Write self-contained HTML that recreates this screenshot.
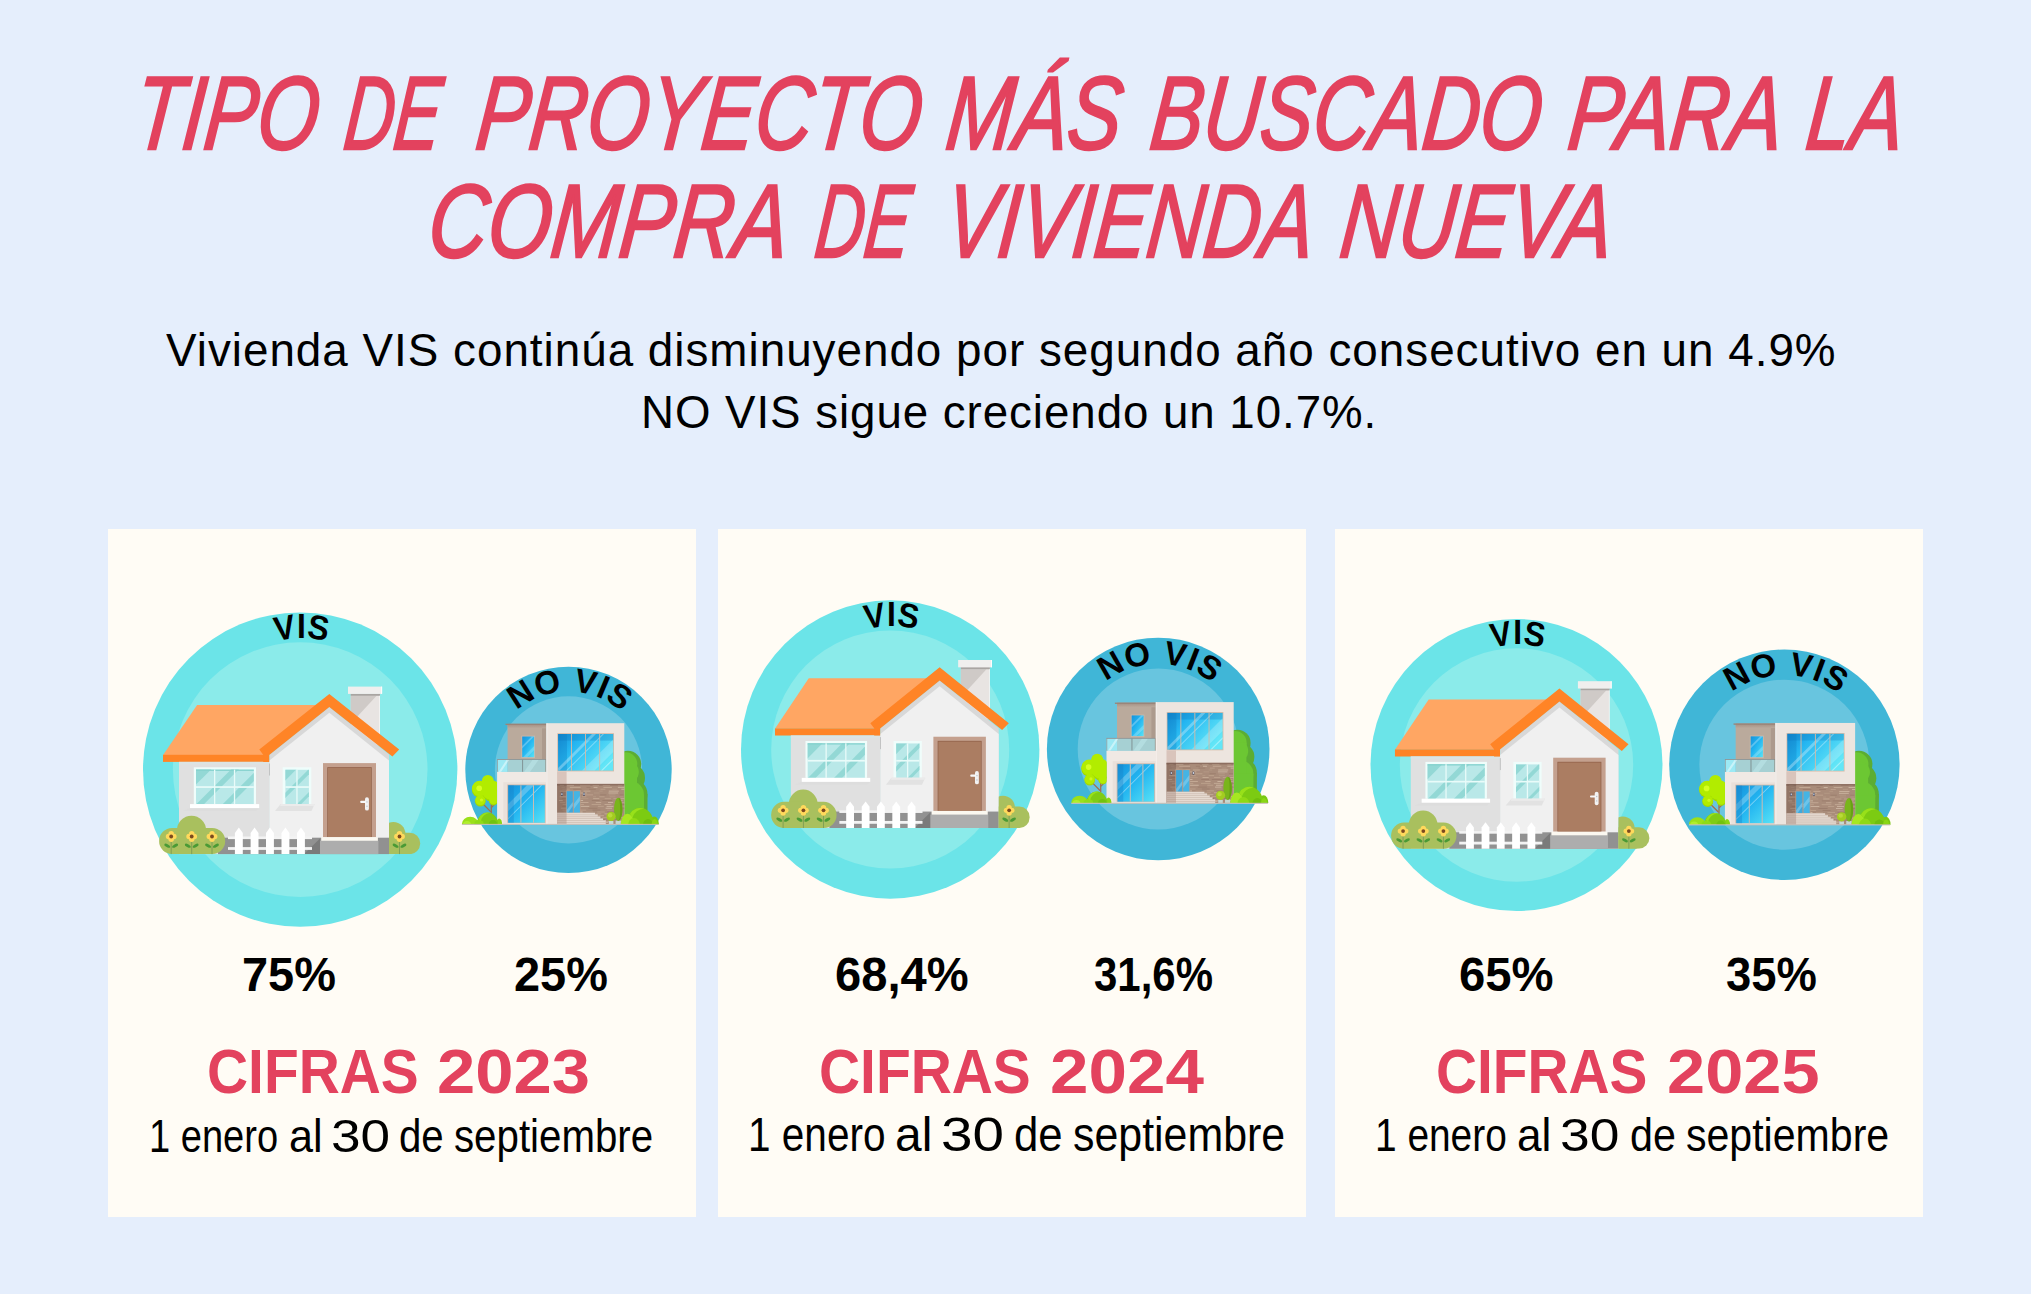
<!DOCTYPE html><html lang="es"><head><meta charset="utf-8"><title>Tipo de proyecto más buscado</title><style>
html,body{margin:0;padding:0}
body{width:2031px;height:1294px;background:#E5EEFC;position:relative;overflow:hidden;font-family:"Liberation Sans",Arial,sans-serif}
.card{position:absolute;top:529px;height:688.4px;background:#FFFCF5}
.g{position:absolute;left:0;top:0;margin:0;width:0;height:0;line-height:1}
.t{position:absolute;white-space:nowrap;line-height:1;transform-origin:0 0;display:block}
svg.art{position:absolute;left:0;top:0}

</style></head><body>
<div class="card" style="left:108px;width:588px"></div>
<div class="card" style="left:718px;width:588px"></div>
<div class="card" style="left:1335px;width:587.5px"></div>
<svg class="art" width="2031" height="1294" viewBox="0 0 2031 1294"><defs>
<g id="hv"><rect x="187.7" y="7" width="29.3" height="52" fill="#E8E4E2"/><polygon points="187.7,9.3 213.6,9.3 187.7,37.3" fill="#CFCAC7"/><rect x="187.7" y="7.2" width="29.3" height="2.1" fill="#A9A5A2"/><rect x="216.3" y="9.3" width="0.7" height="45" fill="#F8F8F8"/><rect x="185" y="0.1" width="34.1" height="7.3" fill="#F0EFEE"/><rect x="218.2" y="0.1" width="0.9" height="7.3" fill="#FFFFFF"/><polygon points="34.1,18.4 155,18.4 100.2,68.5 0.1,68.5" fill="#FFA663"/><rect x="0" y="68.3" width="106.2" height="7.1" fill="#FF8426"/><rect x="16" y="75.4" width="90.6" height="92.2" fill="#E0E0E0"/><rect x="16" y="75.4" width="90.6" height="2.4" fill="#DCE4E4"/><polygon points="106.4,167.6 106.4,68.2 166.3,20.5 226,68.1 226,167.6" fill="#D8D8D8"/><polygon points="106.4,167.6 106.4,74 166.3,26.3 226,73.9 226,167.6" fill="#F0F0F0"/><rect x="106.1" y="77" width="0.8" height="12" fill="#B9B9B9"/><polygon points="166.3,7.4 236.2,63.1 229.4,70 166.3,20.5 106.2,68.4 106.2,75.4 100.2,75.4 100.2,68.2 96.3,63.1" fill="#FF8426"/><rect x="30.8" y="80.8" width="62.2" height="36.8" fill="#EFFDFB"/><rect x="33" y="83.1" width="57.8" height="34.5" fill="#B9E8E8"/><clipPath id="cw1"><rect x="33" y="83.1" width="57.8" height="34.5"/></clipPath><g clip-path="url(#cw1)" fill="#93D8D5"><polygon points="21.900000000000006,78.1 53.0,78.1 8.5,122.6 -22.599999999999994,122.6"/><polygon points="72.9,78.1 80.6,78.1 36.099999999999994,122.6 28.400000000000006,122.6"/><polygon points="99.20000000000002,78.1 107.30000000000001,78.1 62.80000000000001,122.6 54.70000000000002,122.6"/></g><rect x="33" y="83.1" width="57.8" height="1.3" fill="#86D2CE"/><rect x="51" y="83.1" width="1.3" height="34.5" fill="#E9FBF9"/><rect x="70.9" y="83.1" width="1.3" height="34.5" fill="#E9FBF9"/><rect x="33" y="99.7" width="57.8" height="1.7" fill="#E9FBF9"/><polygon points="27,121.6 96.2,121.6 93,124.4 20,124.4" fill="#DADADA" opacity="0.55"/><rect x="27" y="117.6" width="69.2" height="4" fill="#FFFFFF"/><rect x="119.7" y="80.8" width="28.6" height="36.8" fill="#EFFDFB"/><rect x="122.4" y="83.3" width="23.5" height="34.3" fill="#B9E8E8"/><clipPath id="cw2"><rect x="122.4" y="83.3" width="23.5" height="34.3"/></clipPath><g clip-path="url(#cw2)" fill="#93D8D5"><polygon points="111.7,78.3 137.89999999999998,78.3 93.6,122.6 67.4,122.6"/><polygon points="150.10000000000002,78.3 155.5,78.3 111.20000000000002,122.6 105.80000000000001,122.6"/><polygon points="173.2,78.3 177.5,78.3 133.20000000000002,122.6 128.9,122.6"/></g><rect x="133.3" y="83.3" width="1.3" height="34.3" fill="#E9FBF9"/><rect x="122.4" y="99.7" width="23.5" height="1.7" fill="#E9FBF9"/><polygon points="117.7,117.6 151.7,117.6 148.5,124.4 112,124.4" fill="#E2E2E2"/><polygon points="117.7,117.6 151.7,117.6 151,119.6 117.2,119.6" fill="#EBEBEB"/><rect x="160" y="76.6" width="53" height="74" fill="#C4A08E"/><rect x="164.3" y="80.7" width="44.4" height="69.9" fill="#8F5E46"/><rect x="165" y="81.4" width="43" height="69.2" fill="#AB7D62"/><rect x="202" y="110.7" width="3.9" height="13.4" rx="1.95" fill="#F2F2F2"/><rect x="197.2" y="114.3" width="6" height="2.2" rx="1" fill="#F7F7F7"/><circle cx="204" cy="115.4" r="0.7" fill="#B8C0C8"/><circle cx="204" cy="119.8" r="0.7" fill="#B8C0C8"/><rect x="55" y="151.2" width="171" height="16.4" fill="#919191"/><polygon points="141,167.6 157,152 157,167.6" fill="#7A7A7A"/><rect x="157" y="154.3" width="58.4" height="13.3" fill="#ADADAD"/><rect x="158.2" y="150.6" width="56.7" height="3.7" fill="#FBF8F0"/><rect x="65" y="150" width="84" height="2.6" fill="#F3F3F3"/><rect x="65" y="160.6" width="84" height="2.8" fill="#F3F3F3"/><polygon points="71.9,167.6 71.9,146.4 75.85000000000001,141.1 79.80000000000001,146.4 79.80000000000001,167.6" fill="#FFFFFF"/><polygon points="87.6,167.6 87.6,146.4 91.55,141.1 95.5,146.4 95.5,167.6" fill="#FFFFFF"/><polygon points="103.0,167.6 103.0,146.4 106.95,141.1 110.9,146.4 110.9,167.6" fill="#FFFFFF"/><polygon points="118.5,167.6 118.5,146.4 122.45,141.1 126.4,146.4 126.4,167.6" fill="#FFFFFF"/><polygon points="134.0,167.6 134.0,146.4 137.95,141.1 141.9,146.4 141.9,167.6" fill="#FFFFFF"/><circle cx="28.5" cy="143.9" r="14.6" fill="#A9C05E"/><rect x="-3.9" y="141.5" width="66.1" height="26.1" rx="13" fill="#A9C05E"/><line x1="8.2" y1="154" x2="8.2" y2="167.6" stroke="#7C9C55" stroke-width="0.9"/><ellipse cx="4.299999999999999" cy="159.2" rx="3.3" ry="1.5" fill="#4A9A35" transform="rotate(28 4.299999999999999 159.2)"/><ellipse cx="12.1" cy="159.2" rx="3.3" ry="1.5" fill="#4A9A35" transform="rotate(-28 12.1 159.2)"/><circle cx="8.2" cy="147.3" r="2.7" fill="#FFD95C"/><circle cx="8.2" cy="152.7" r="2.7" fill="#FFD95C"/><circle cx="5.499999999999999" cy="150" r="2.7" fill="#FFD95C"/><circle cx="10.899999999999999" cy="150" r="2.7" fill="#FFD95C"/><circle cx="8.2" cy="150" r="1.9" fill="#7B4A20"/><line x1="28.7" y1="154" x2="28.7" y2="167.6" stroke="#7C9C55" stroke-width="0.9"/><ellipse cx="24.8" cy="159.2" rx="3.3" ry="1.5" fill="#4A9A35" transform="rotate(28 24.8 159.2)"/><ellipse cx="32.6" cy="159.2" rx="3.3" ry="1.5" fill="#4A9A35" transform="rotate(-28 32.6 159.2)"/><circle cx="28.7" cy="147.3" r="2.7" fill="#FFD95C"/><circle cx="28.7" cy="152.7" r="2.7" fill="#FFD95C"/><circle cx="26.0" cy="150" r="2.7" fill="#FFD95C"/><circle cx="31.4" cy="150" r="2.7" fill="#FFD95C"/><circle cx="28.7" cy="150" r="1.9" fill="#7B4A20"/><line x1="49.0" y1="154" x2="49.0" y2="167.6" stroke="#7C9C55" stroke-width="0.9"/><ellipse cx="45.1" cy="159.2" rx="3.3" ry="1.5" fill="#4A9A35" transform="rotate(28 45.1 159.2)"/><ellipse cx="52.9" cy="159.2" rx="3.3" ry="1.5" fill="#4A9A35" transform="rotate(-28 52.9 159.2)"/><circle cx="49.0" cy="147.3" r="2.7" fill="#FFD95C"/><circle cx="49.0" cy="152.7" r="2.7" fill="#FFD95C"/><circle cx="46.3" cy="150" r="2.7" fill="#FFD95C"/><circle cx="51.7" cy="150" r="2.7" fill="#FFD95C"/><circle cx="49.0" cy="150" r="1.9" fill="#7B4A20"/><clipPath id="crb"><rect x="226" y="120" width="40" height="47.6"/></clipPath><g clip-path="url(#crb)"><circle cx="230.4" cy="147.4" r="12" fill="#A9C05E"/><rect x="215" y="146.2" width="42.2" height="21.4" rx="10.5" fill="#A9C05E"/><rect x="215" y="155" width="30" height="12.6" fill="#A9C05E"/></g><line x1="236.5" y1="154" x2="236.5" y2="167.6" stroke="#7C9C55" stroke-width="0.9"/><ellipse cx="232.6" cy="159.2" rx="3.3" ry="1.5" fill="#4A9A35" transform="rotate(28 232.6 159.2)"/><ellipse cx="240.4" cy="159.2" rx="3.3" ry="1.5" fill="#4A9A35" transform="rotate(-28 240.4 159.2)"/><circle cx="236.5" cy="147.3" r="2.7" fill="#FFD95C"/><circle cx="236.5" cy="152.7" r="2.7" fill="#FFD95C"/><circle cx="233.8" cy="150" r="2.7" fill="#FFD95C"/><circle cx="239.2" cy="150" r="2.7" fill="#FFD95C"/><circle cx="236.5" cy="150" r="1.9" fill="#7B4A20"/></g>
<g id="hm"><linearGradient id="gl" x1="0" y1="0" x2="1" y2="1"><stop offset="0" stop-color="#1693DC"/><stop offset="0.45" stop-color="#22B4F0"/><stop offset="1" stop-color="#58E2F6"/></linearGradient>
<linearGradient id="gl2" x1="0" y1="0" x2="1" y2="0.6"><stop offset="0" stop-color="#168FD8"/><stop offset="0.35" stop-color="#25B6F1"/><stop offset="1" stop-color="#62E6F7"/></linearGradient>
<linearGradient id="gcap" x1="0" y1="0" x2="0" y2="1"><stop offset="0" stop-color="#A38E82"/><stop offset="1" stop-color="#BAAA9C"/></linearGradient><clipPath id="cgr"><rect x="-10" y="-10" width="230" height="112.2"/></clipPath><g fill="#5CAD33"><circle cx="166" cy="42" r="13.2"/><circle cx="169" cy="56" r="14"/><circle cx="170.5" cy="72" r="15"/><rect x="160" y="72" width="25.5" height="30"/></g><g fill="#6CC733"><circle cx="163.5" cy="42" r="11.8"/><circle cx="166" cy="50" r="10.8"/><circle cx="168" cy="73" r="14"/><rect x="155" y="42" width="20" height="60"/><rect x="155" y="73" width="27" height="29"/></g><rect x="0" y="101.7" width="196.5" height="1" fill="#C7BEB8"/><rect x="45.6" y="1.9" width="38.8" height="35.5" fill="#BAAA9C"/><rect x="80" y="1.9" width="4.4" height="35.5" fill="#AC9A8D"/><rect x="45.6" y="1.9" width="38.8" height="4.4" fill="url(#gcap)"/><rect x="43.5" y="1.7" width="40.9" height="1.3" fill="#9A8478"/><rect x="59.4" y="13.7" width="13.6" height="22.3" fill="#CDB9AA"/><rect x="60.2" y="14.5" width="12" height="20.7" fill="url(#gl)"/><polygon points="60.2,24 69.7,14.5 72.2,14.5 60.2,26.5" fill="#FFFFFF" opacity="0.28"/><polygon points="61,35.2 72.2,24 72.2,28 65,35.2" fill="#FFFFFF" opacity="0.22"/><rect x="35.1" y="37.2" width="10.5" height="12.7" fill="#9CE9F4"/><rect x="45.6" y="37.2" width="38.6" height="12.7" fill="#A6D0D3"/><polygon points="36.5,49.9 45,37.2 47.5,37.2 39,49.9" fill="#FFFFFF" opacity="0.45"/><polygon points="62,49.9 71,37.2 77,37.2 68,49.9" fill="#B9E3E6" opacity="0.7"/><rect x="35.1" y="37" width="49.3" height="0.9" fill="#8F9596"/><rect x="35.1" y="37.2" width="0.7" height="12.7" fill="#8F9596"/><rect x="60" y="37.2" width="1.1" height="12.7" fill="#84999B"/><rect x="83.5" y="37.2" width="0.9" height="12.7" fill="#8E8276"/><rect x="35.1" y="49.9" width="49.7" height="52.2" fill="#F0E9E4"/><rect x="41.3" y="60.2" width="43.5" height="41.9" fill="#E9E0DA"/><rect x="45.3" y="62.5" width="38.2" height="38.4" fill="#C9B4A7"/><rect x="46.2" y="63.3" width="36.6" height="37.4" fill="url(#gl)"/><polygon points="46.2,82 64.9,63.3 72,63.3 46.2,89" fill="#FFFFFF" opacity="0.25"/><polygon points="46.2,96 78.9,63.3 80.2,63.3 46.2,97.3" fill="#FFFFFF" opacity="0.4"/><rect x="46.2" y="63.3" width="5.6" height="37.4" fill="#1A7FC4" opacity="0.35"/><rect x="58.4" y="63.3" width="1" height="37.4" fill="#C9BCB3"/><rect x="71" y="63.3" width="1" height="37.4" fill="#C9BCB3"/><rect x="84.4" y="1.2" width="77.9" height="100.9" fill="#EDE5DF"/><rect x="84.4" y="1.2" width="1" height="100.9" fill="#F5EFEB"/><rect x="95.3" y="11.2" width="56.7" height="38.2" fill="#D6B9A5"/><rect x="96.1" y="12" width="55.1" height="36.6" fill="url(#gl2)"/><rect x="96.1" y="12" width="55.1" height="6.6" fill="#0E78BE" opacity="0.32"/><rect x="96.1" y="12" width="8.9" height="36.6" fill="#0E78BE" opacity="0.3"/><polygon points="96.1,46 130,12 134,12 97.5,48.6 96.1,48.6" fill="#FFFFFF" opacity="0.3"/><polygon points="104,48.6 140.6,12 142,12 105.4,48.6" fill="#FFFFFF" opacity="0.35"/><polygon points="120,48.6 151.2,17.4 151.2,30 132.6,48.6" fill="#FFFFFF" opacity="0.22"/><polygon points="139,48.6 151.2,36.4 151.2,38 140.6,48.6" fill="#FFFFFF" opacity="0.4"/><rect x="109.0" y="12" width="0.9" height="36.6" fill="#D6B9A5"/><rect x="123.0" y="12" width="0.9" height="36.6" fill="#D6B9A5"/><rect x="137.2" y="12" width="0.9" height="36.6" fill="#D6B9A5"/><rect x="95.1" y="49.4" width="9.5" height="12.5" fill="#D9C4BB"/><rect x="95.1" y="61.9" width="67.2" height="40.2" fill="#A98C7A"/><rect x="97.9" y="63.0" width="4.2" height="0.8" fill="#C8AF9A"/><rect x="104.7" y="63.0" width="7.3" height="0.8" fill="#D2BCA8"/><rect x="118.0" y="63.0" width="10.3" height="0.8" fill="#BFA48F"/><rect x="130.6" y="63.0" width="6.5" height="0.8" fill="#C8AF9A"/><rect x="140.7" y="63.0" width="7.4" height="0.8" fill="#C8AF9A"/><rect x="155.9" y="63.0" width="4.0" height="0.8" fill="#BFA48F"/><rect x="99.5" y="64.9" width="3.5" height="0.8" fill="#B59A86"/><rect x="107.8" y="64.9" width="10.8" height="0.8" fill="#C8AF9A"/><rect x="124.5" y="64.9" width="4.1" height="0.8" fill="#9A7C6B"/><rect x="131.6" y="64.9" width="3.9" height="0.8" fill="#D2BCA8"/><rect x="141.4" y="64.9" width="8.5" height="0.8" fill="#C8AF9A"/><rect x="155.9" y="64.9" width="6.4" height="0.8" fill="#D2BCA8"/><rect x="100.3" y="66.8" width="7.5" height="0.8" fill="#B59A86"/><rect x="111.2" y="66.8" width="8.4" height="0.8" fill="#9A7C6B"/><rect x="127.1" y="66.8" width="6.7" height="0.8" fill="#9A7C6B"/><rect x="138.4" y="66.8" width="5.0" height="0.8" fill="#BFA48F"/><rect x="150.2" y="66.8" width="5.0" height="0.8" fill="#B59A86"/><rect x="159.3" y="66.8" width="3.0" height="0.8" fill="#D2BCA8"/><rect x="97.7" y="68.7" width="10.8" height="0.8" fill="#C8AF9A"/><rect x="114.2" y="68.7" width="4.3" height="0.8" fill="#D2BCA8"/><rect x="121.5" y="68.7" width="6.9" height="0.8" fill="#C8AF9A"/><rect x="137.2" y="68.7" width="3.6" height="0.8" fill="#B59A86"/><rect x="146.8" y="68.7" width="10.0" height="0.8" fill="#D2BCA8"/><rect x="98.1" y="70.6" width="7.0" height="0.8" fill="#9A7C6B"/><rect x="107.6" y="70.6" width="3.7" height="0.8" fill="#D2BCA8"/><rect x="116.6" y="70.6" width="8.3" height="0.8" fill="#C8AF9A"/><rect x="132.1" y="70.6" width="5.5" height="0.8" fill="#B59A86"/><rect x="146.5" y="70.6" width="9.6" height="0.8" fill="#D2BCA8"/><rect x="101.3" y="72.5" width="5.8" height="0.8" fill="#9A7C6B"/><rect x="111.6" y="72.5" width="7.9" height="0.8" fill="#9A7C6B"/><rect x="121.9" y="72.5" width="9.1" height="0.8" fill="#BFA48F"/><rect x="138.2" y="72.5" width="6.2" height="0.8" fill="#9A7C6B"/><rect x="146.9" y="72.5" width="6.6" height="0.8" fill="#B59A86"/><rect x="157.5" y="72.5" width="4.1" height="0.8" fill="#9A7C6B"/><rect x="97.7" y="74.4" width="6.3" height="0.8" fill="#D2BCA8"/><rect x="110.8" y="74.4" width="6.0" height="0.8" fill="#BFA48F"/><rect x="119.9" y="74.4" width="4.4" height="0.8" fill="#BFA48F"/><rect x="130.9" y="74.4" width="3.1" height="0.8" fill="#B59A86"/><rect x="137.3" y="74.4" width="5.3" height="0.8" fill="#BFA48F"/><rect x="147.5" y="74.4" width="6.0" height="0.8" fill="#B59A86"/><rect x="157.6" y="74.4" width="4.0" height="0.8" fill="#B59A86"/><rect x="99.9" y="76.3" width="8.9" height="0.8" fill="#9A7C6B"/><rect x="117.1" y="76.3" width="9.2" height="0.8" fill="#B59A86"/><rect x="131.1" y="76.3" width="6.2" height="0.8" fill="#C8AF9A"/><rect x="142.7" y="76.3" width="6.2" height="0.8" fill="#BFA48F"/><rect x="151.4" y="76.3" width="4.7" height="0.8" fill="#BFA48F"/><rect x="158.8" y="76.3" width="3.5" height="0.8" fill="#C8AF9A"/><rect x="96.9" y="78.2" width="3.8" height="0.8" fill="#D2BCA8"/><rect x="107.0" y="78.2" width="3.6" height="0.8" fill="#BFA48F"/><rect x="116.9" y="78.2" width="4.2" height="0.8" fill="#D2BCA8"/><rect x="129.8" y="78.2" width="7.8" height="0.8" fill="#9A7C6B"/><rect x="140.4" y="78.2" width="9.8" height="0.8" fill="#9A7C6B"/><rect x="155.6" y="78.2" width="5.5" height="0.8" fill="#BFA48F"/><rect x="98.1" y="80.1" width="5.1" height="0.8" fill="#BFA48F"/><rect x="108.8" y="80.1" width="4.6" height="0.8" fill="#B59A86"/><rect x="118.0" y="80.1" width="8.5" height="0.8" fill="#C8AF9A"/><rect x="133.8" y="80.1" width="5.4" height="0.8" fill="#C8AF9A"/><rect x="146.0" y="80.1" width="5.1" height="0.8" fill="#D2BCA8"/><rect x="159.5" y="80.1" width="2.8" height="0.8" fill="#BFA48F"/><rect x="100.7" y="82.0" width="5.6" height="0.8" fill="#BFA48F"/><rect x="112.6" y="82.0" width="9.3" height="0.8" fill="#BFA48F"/><rect x="129.6" y="82.0" width="9.5" height="0.8" fill="#BFA48F"/><rect x="142.5" y="82.0" width="6.9" height="0.8" fill="#C8AF9A"/><rect x="158.4" y="82.0" width="3.9" height="0.8" fill="#9A7C6B"/><rect x="100.2" y="83.9" width="10.7" height="0.8" fill="#9A7C6B"/><rect x="118.5" y="83.9" width="8.8" height="0.8" fill="#D2BCA8"/><rect x="135.9" y="83.9" width="5.9" height="0.8" fill="#BFA48F"/><rect x="144.6" y="83.9" width="6.8" height="0.8" fill="#D2BCA8"/><rect x="154.8" y="83.9" width="7.5" height="0.8" fill="#B59A86"/><rect x="98.9" y="85.8" width="8.2" height="0.8" fill="#C8AF9A"/><rect x="114.9" y="85.8" width="4.0" height="0.8" fill="#9A7C6B"/><rect x="126.4" y="85.8" width="9.0" height="0.8" fill="#9A7C6B"/><rect x="143.6" y="85.8" width="6.5" height="0.8" fill="#D2BCA8"/><rect x="152.7" y="85.8" width="9.6" height="0.8" fill="#9A7C6B"/><rect x="100.5" y="87.7" width="3.7" height="0.8" fill="#BFA48F"/><rect x="107.3" y="87.7" width="4.0" height="0.8" fill="#BFA48F"/><rect x="117.5" y="87.7" width="6.7" height="0.8" fill="#BFA48F"/><rect x="130.5" y="87.7" width="7.8" height="0.8" fill="#9A7C6B"/><rect x="144.9" y="87.7" width="5.8" height="0.8" fill="#B59A86"/><rect x="156.5" y="87.7" width="3.2" height="0.8" fill="#C8AF9A"/><rect x="101.6" y="89.6" width="6.5" height="0.8" fill="#BFA48F"/><rect x="115.9" y="89.6" width="4.7" height="0.8" fill="#D2BCA8"/><rect x="124.0" y="89.6" width="7.0" height="0.8" fill="#B59A86"/><rect x="135.3" y="89.6" width="7.4" height="0.8" fill="#BFA48F"/><rect x="145.1" y="89.6" width="8.9" height="0.8" fill="#9A7C6B"/><rect x="100.9" y="91.5" width="7.1" height="0.8" fill="#B59A86"/><rect x="110.9" y="91.5" width="4.2" height="0.8" fill="#B59A86"/><rect x="117.3" y="91.5" width="6.5" height="0.8" fill="#BFA48F"/><rect x="130.1" y="91.5" width="9.2" height="0.8" fill="#BFA48F"/><rect x="142.5" y="91.5" width="6.8" height="0.8" fill="#C8AF9A"/><rect x="155.2" y="91.5" width="5.6" height="0.8" fill="#B59A86"/><rect x="98.9" y="93.4" width="9.2" height="0.8" fill="#B59A86"/><rect x="110.5" y="93.4" width="4.5" height="0.8" fill="#C8AF9A"/><rect x="122.4" y="93.4" width="7.1" height="0.8" fill="#B59A86"/><rect x="131.7" y="93.4" width="10.2" height="0.8" fill="#C8AF9A"/><rect x="147.0" y="93.4" width="7.9" height="0.8" fill="#B59A86"/><rect x="97.2" y="95.3" width="5.2" height="0.8" fill="#B59A86"/><rect x="108.1" y="95.3" width="6.8" height="0.8" fill="#BFA48F"/><rect x="121.9" y="95.3" width="10.0" height="0.8" fill="#D2BCA8"/><rect x="140.3" y="95.3" width="10.1" height="0.8" fill="#BFA48F"/><rect x="158.4" y="95.3" width="3.9" height="0.8" fill="#C8AF9A"/><rect x="97.9" y="97.2" width="8.4" height="0.8" fill="#9A7C6B"/><rect x="108.8" y="97.2" width="8.4" height="0.8" fill="#C8AF9A"/><rect x="125.4" y="97.2" width="4.2" height="0.8" fill="#D2BCA8"/><rect x="132.6" y="97.2" width="10.1" height="0.8" fill="#9A7C6B"/><rect x="146.2" y="97.2" width="10.6" height="0.8" fill="#9A7C6B"/><rect x="97.0" y="99.1" width="8.3" height="0.8" fill="#BFA48F"/><rect x="108.4" y="99.1" width="6.5" height="0.8" fill="#B59A86"/><rect x="119.7" y="99.1" width="6.4" height="0.8" fill="#D2BCA8"/><rect x="130.3" y="99.1" width="8.8" height="0.8" fill="#C8AF9A"/><rect x="143.5" y="99.1" width="6.7" height="0.8" fill="#C8AF9A"/><rect x="154.8" y="99.1" width="7.1" height="0.8" fill="#D2BCA8"/><rect x="95.1" y="61.9" width="67.2" height="1.6" fill="#86665A" opacity="0.8"/><rect x="95.1" y="61.9" width="9.5" height="40.2" fill="#6F5247" opacity="0.38"/><rect x="103.9" y="68.4" width="14.8" height="22.4" fill="#B79A88"/><rect x="104.7" y="69.2" width="6.1" height="21.6" fill="#3EA8DC"/><rect x="111.8" y="69.2" width="6.1" height="21.6" fill="#45B4E4"/><polygon points="104.7,88 110.8,80 110.8,84 106,90.8 104.7,90.8" fill="#FFFFFF" opacity="0.25"/><polygon points="111.8,82 117.9,74 117.9,79 111.8,87" fill="#FFFFFF" opacity="0.22"/><rect x="99" y="70.6" width="1.8" height="3.2" fill="#4B4E63"/><rect x="99.4" y="71.2" width="1" height="1.8" fill="#DDE6F2"/><rect x="121.1" y="70.6" width="1.8" height="3.2" fill="#4B4E63"/><rect x="121.5" y="71.2" width="1" height="1.8" fill="#DDE6F2"/><polygon points="95.1,90.8 133,90.8 133,92.6 135.7,92.6 135.7,94.5 138.4,94.5 138.4,96.4 141.1,96.4 141.1,98.3 143.8,98.3 143.8,102 95.1,102" fill="#E6DAD1"/><rect x="95.1" y="92.5" width="40.3" height="0.7" fill="#CDBDB2"/><rect x="95.1" y="94.4" width="43.0" height="0.7" fill="#CDBDB2"/><rect x="95.1" y="96.3" width="45.7" height="0.7" fill="#CDBDB2"/><rect x="95.1" y="98.2" width="48.4" height="0.7" fill="#CDBDB2"/><rect x="95.1" y="100.1" width="51.1" height="0.7" fill="#CDBDB2"/><rect x="95.1" y="90.8" width="9.5" height="11.2" fill="#A98C80" opacity="0.45"/><rect x="146.8" y="99" width="4.6" height="3" fill="#C9DAD3"/><rect x="153.6" y="98.6" width="5.2" height="3.4" fill="#C5D8D0"/><ellipse cx="156.2" cy="87.4" rx="4.2" ry="11.6" fill="#79B51C"/><path d="M156.2 75.8 A4.2 11.6 0 0 1 156.2 99 A2 11.6 0 0 0 156.2 75.8Z" fill="#67A214"/><circle cx="149.1" cy="94.4" r="4.6" fill="#A3CC20"/><circle cx="148.2" cy="93.2" r="2.2" fill="#B9DA3A"/><g clip-path="url(#cgr)"><ellipse cx="192.3" cy="102.2" rx="4.6" ry="7.8" fill="#79C811"/><ellipse cx="178.2" cy="102.2" rx="13.6" ry="16.4" fill="#7CCB12"/><ellipse cx="165.4" cy="102.2" rx="6.6" ry="10.5" fill="#A6E722"/><ellipse cx="172" cy="103.5" rx="6" ry="7.5" fill="#8FD915"/><path d="M168 92 A11 11 0 0 1 182 86.8 A13 13 0 0 0 170.5 95.5Z" fill="#98E01A"/><ellipse cx="186" cy="103" rx="5" ry="6" fill="#6FBE0E"/><ellipse cx="192.6" cy="102.5" rx="3" ry="5.4" fill="#8AD614"/></g><g stroke="#A0714F" stroke-width="1.3" fill="none" stroke-linecap="round"><line x1="29.3" y1="78" x2="29.3" y2="91"/><line x1="21.8" y1="82.7" x2="28.4" y2="89.4"/><line x1="33.3" y1="81.5" x2="29.9" y2="85"/></g><clipPath id="ctl"><rect x="-10" y="40" width="45.1" height="70"/></clipPath><g clip-path="url(#ctl)"><g fill="#A2DA00"><circle cx="18.3" cy="79.2" r="5.4"/><circle cx="31.5" cy="78.8" r="4.6"/><circle cx="17.8" cy="67.6" r="8"/><circle cx="29.5" cy="69.5" r="10"/></g><g fill="#B2EC00"><circle cx="25.8" cy="58.9" r="6"/><circle cx="17.8" cy="66.5" r="7.8"/><circle cx="29.3" cy="68" r="9.8"/><circle cx="18.3" cy="78.3" r="5"/><circle cx="31.5" cy="78" r="4.3"/></g><circle cx="17.2" cy="66.2" r="2.8" fill="#D6FF22"/><circle cx="19.5" cy="78" r="1.6" fill="#CDF91C"/></g><g clip-path="url(#cgr)"><ellipse cx="8.2" cy="102.2" rx="8.4" ry="7.4" fill="#9BE01A"/><ellipse cx="37.2" cy="102.2" rx="2.9" ry="5.6" fill="#8AD614"/><ellipse cx="25.5" cy="102.2" rx="10.6" ry="11.6" fill="#7FCC14"/><ellipse cx="17" cy="103" rx="5" ry="5.2" fill="#8FDB16"/><path d="M16.5 97 A10 10 0 0 1 28 90.8 A12 12 0 0 0 18.5 99.5Z" fill="#98E01A"/><ellipse cx="31" cy="103" rx="4.5" ry="5" fill="#72C20F"/><ellipse cx="5" cy="102.6" rx="4" ry="3.6" fill="#B0EE2C"/></g><rect x="0" y="101.9" width="196.5" height="0.9" fill="#C9C0BA"/></g>
</defs>
<circle cx="300.2" cy="769.6" r="157.2" fill="#6BE4E8"/><circle cx="300.2" cy="769.6" r="127.3" fill="#8BEBEA"/>
<circle cx="568.5" cy="769.9" r="103.2" fill="#40B6D7"/><circle cx="568.5" cy="769.9" r="73.6" fill="#68C5DF"/>
<circle cx="890.2" cy="749.5" r="149.2" fill="#6BE4E8"/><circle cx="890.2" cy="749.5" r="119" fill="#8BEBEA"/>
<circle cx="1158.2" cy="749" r="111.3" fill="#40B6D7"/><circle cx="1158.2" cy="749" r="80.5" fill="#68C5DF"/>
<circle cx="1516.5" cy="765" r="146" fill="#6BE4E8"/><circle cx="1516.5" cy="765" r="116.7" fill="#8BEBEA"/>
<circle cx="1784.4" cy="764.7" r="115.2" fill="#40B6D7"/><circle cx="1784.4" cy="764.7" r="85" fill="#68C5DF"/>
<g transform="translate(163.00 686.50) scale(1.0 1.0)"><use href="#hv"/></g>
<g transform="translate(462.00 722.00) scale(1.0 1.0)"><use href="#hm"/></g>
<g transform="translate(775.00 659.90) scale(0.99 1.003)"><use href="#hv"/></g>
<g transform="translate(1071.40 700.90) scale(1.0 1.0)"><use href="#hm"/></g>
<g transform="translate(1394.95 681.10) scale(0.989 1.0)"><use href="#hv"/></g>
<g transform="translate(1689.00 721.75) scale(1.0236 1.007)"><use href="#hm"/></g>
<path id="pv0" d="M216.63 686.90 A98 98 0 0 1 386.37 686.90" fill="none"/><g transform="translate(301.5 0) scale(0.93 1) translate(-301.5 0)"><text font-family="Liberation Sans, Arial, sans-serif" font-weight="700" font-size="34.2" letter-spacing="0.3" fill="#000" text-anchor="middle"><textPath href="#pv0" startOffset="50%">VIS</textPath></text></g>
<path id="pn0" d="M490.43 761.69 A78.5 78.5 0 0 1 646.81 764.42" fill="none"/><text font-family="Liberation Sans, Arial, sans-serif" font-weight="700" font-size="33.0" letter-spacing="0.6" fill="#000" text-anchor="middle"><textPath href="#pn0" startOffset="50%">NO VIS</textPath></text>
<path id="pv1" d="M806.63 674.90 A98 98 0 0 1 976.37 674.90" fill="none"/><g transform="translate(891.5 0) scale(0.93 1) translate(-891.5 0)"><text font-family="Liberation Sans, Arial, sans-serif" font-weight="700" font-size="34.2" letter-spacing="0.3" fill="#000" text-anchor="middle"><textPath href="#pv1" startOffset="50%">VIS</textPath></text></g>
<path id="pn1" d="M1073.47 740.09 A85.2 85.2 0 0 1 1243.19 743.06" fill="none"/><text font-family="Liberation Sans, Arial, sans-serif" font-weight="700" font-size="33.0" letter-spacing="0.6" fill="#000" text-anchor="middle"><textPath href="#pn1" startOffset="50%">NO VIS</textPath></text>
<path id="pv2" d="M1432.93 693.40 A98 98 0 0 1 1602.67 693.40" fill="none"/><g transform="translate(1517.8 0) scale(0.93 1) translate(-1517.8 0)"><text font-family="Liberation Sans, Arial, sans-serif" font-weight="700" font-size="34.2" letter-spacing="0.3" fill="#000" text-anchor="middle"><textPath href="#pv2" startOffset="50%">VIS</textPath></text></g>
<path id="pn2" d="M1695.39 755.34 A89.5 89.5 0 0 1 1873.68 758.46" fill="none"/><text font-family="Liberation Sans, Arial, sans-serif" font-weight="700" font-size="33.0" letter-spacing="0.6" fill="#000" text-anchor="middle"><textPath href="#pn2" startOffset="50%">NO VIS</textPath></text>
</svg>
<h1 class="g" style="font-size:104px;font-weight:400;font-style:italic;color:#E3425E;-webkit-text-stroke:2.4px #E3425E"><span class="t" style="left:132.28px;top:60.76px;transform-origin:0 88.04px;transform:skewX(-5.8deg) scaleX(0.7583)">TIPO</span> <span class="t" style="left:341.50px;top:60.76px;transform-origin:0 88.04px;transform:skewX(-5.8deg) scaleX(0.6639)">DE</span> <span class="t" style="left:474.22px;top:60.76px;transform-origin:0 88.04px;transform:skewX(-5.8deg) scaleX(0.7646)">PROYECTO</span> <span class="t" style="left:944.40px;top:60.76px;transform-origin:0 88.04px;transform:skewX(-5.8deg) scaleX(0.7754)">MÁS</span> <span class="t" style="left:1147.73px;top:60.76px;transform-origin:0 88.04px;transform:skewX(-5.8deg) scaleX(0.7598)">BUSCADO</span> <span class="t" style="left:1566.20px;top:60.76px;transform-origin:0 88.04px;transform:skewX(-5.8deg) scaleX(0.7766)">PARA</span> <span class="t" style="left:1804.03px;top:60.76px;transform-origin:0 88.04px;transform:skewX(-5.8deg) scaleX(0.7597)">LA</span></h1>
<h1 class="g" style="font-size:104px;font-weight:400;font-style:italic;color:#E3425E;-webkit-text-stroke:2.4px #E3425E"><span class="t" style="left:426.21px;top:168.56px;transform-origin:0 88.04px;transform:skewX(-5.8deg) scaleX(0.7875)">COMPRA</span> <span class="t" style="left:812.53px;top:168.56px;transform-origin:0 88.04px;transform:skewX(-5.8deg) scaleX(0.6509)">DE</span> <span class="t" style="left:943.35px;top:168.56px;transform-origin:0 88.04px;transform:skewX(-5.8deg) scaleX(0.7576)">VIVIENDA</span> <span class="t" style="left:1338.41px;top:168.56px;transform-origin:0 88.04px;transform:skewX(-5.8deg) scaleX(0.7695)">NUEVA</span></h1>
<p class="g" style="font-size:45.8px;font-weight:400;font-style:normal;color:#000;letter-spacing:1.0px"><span class="t" style="left:166.20px;top:327.73px;transform:scaleX(0.9997)">Vivienda VIS continúa disminuyendo por segundo año consecutivo en un 4.9%</span></p>
<p class="g" style="font-size:45.8px;font-weight:400;font-style:normal;color:#000;letter-spacing:0.95px"><span class="t" style="left:641.01px;top:389.83px;transform:scaleX(0.9975)">NO VIS sigue creciendo un 10.7%.</span></p>
<p class="g" style="font-size:47.7px;font-weight:700;font-style:normal;color:#000"><span class="t" style="left:242.23px;top:951.12px;transform:scaleX(0.9845)">75%</span></p>
<p class="g" style="font-size:47.7px;font-weight:700;font-style:normal;color:#000"><span class="t" style="left:513.52px;top:951.12px;transform:scaleX(0.9836)">25%</span></p>
<p class="g" style="font-size:47.7px;font-weight:700;font-style:normal;color:#000"><span class="t" style="left:835.11px;top:951.12px;transform:scaleX(0.9879)">68,4%</span></p>
<p class="g" style="font-size:47.7px;font-weight:700;font-style:normal;color:#000"><span class="t" style="left:1094.42px;top:951.12px;transform:scaleX(0.8796)">31,6%</span></p>
<p class="g" style="font-size:47.7px;font-weight:700;font-style:normal;color:#000"><span class="t" style="left:1459.01px;top:951.12px;transform:scaleX(0.9910)">65%</span></p>
<p class="g" style="font-size:47.7px;font-weight:700;font-style:normal;color:#000"><span class="t" style="left:1725.55px;top:951.12px;transform:scaleX(0.9517)">35%</span></p>
<h2 class="g" style="font-size:62.9px;font-weight:700;font-style:normal;color:#E3425E"><span class="t" style="left:206.89px;top:1040.36px;transform:scaleX(0.9047)">CIFRAS</span> <span class="t" style="left:437.21px;top:1040.36px;transform:scaleX(1.0939)">2023</span></h2>
<h2 class="g" style="font-size:62.9px;font-weight:700;font-style:normal;color:#E3425E"><span class="t" style="left:819.29px;top:1040.36px;transform:scaleX(0.9047)">CIFRAS</span> <span class="t" style="left:1050.20px;top:1040.36px;transform:scaleX(1.0998)">2024</span></h2>
<h2 class="g" style="font-size:62.9px;font-weight:700;font-style:normal;color:#E3425E"><span class="t" style="left:1435.69px;top:1040.36px;transform:scaleX(0.9034)">CIFRAS</span> <span class="t" style="left:1666.62px;top:1040.36px;transform:scaleX(1.0903)">2025</span></h2>
<p class="g" style="font-size:46px;font-weight:400;font-style:normal;color:#000"><span class="t" style="left:149.22px;top:1112.96px;transform:scaleX(0.8273)">1 enero</span> <span class="t" style="left:288.54px;top:1112.96px;transform:scaleX(0.9397)">al</span> <span class="t" style="left:330.65px;top:1112.96px;transform:scaleX(1.1544)">30</span> <span class="t" style="left:399.32px;top:1112.96px;transform:scaleX(0.8743)">de</span> <span class="t" style="left:454.31px;top:1112.96px;transform:scaleX(0.8749)">septiembre</span></p>
<p class="g" style="font-size:48px;font-weight:400;font-style:normal;color:#000"><span class="t" style="left:747.97px;top:1111.27px;transform:scaleX(0.8445)">1 enero</span> <span class="t" style="left:895.35px;top:1111.27px;transform:scaleX(0.9981)">al</span> <span class="t" style="left:941.27px;top:1111.27px;transform:scaleX(1.1790)">30</span> <span class="t" style="left:1013.52px;top:1111.27px;transform:scaleX(0.9109)">de</span> <span class="t" style="left:1073.05px;top:1111.27px;transform:scaleX(0.8936)">septiembre</span></p>
<p class="g" style="font-size:46.6px;font-weight:400;font-style:normal;color:#000"><span class="t" style="left:1374.70px;top:1112.45px;transform:scaleX(0.8339)">1 enero</span> <span class="t" style="left:1516.68px;top:1112.45px;transform:scaleX(0.9481)">al</span> <span class="t" style="left:1559.62px;top:1112.45px;transform:scaleX(1.1452)">30</span> <span class="t" style="left:1629.58px;top:1112.45px;transform:scaleX(0.8850)">de</span> <span class="t" style="left:1685.62px;top:1112.45px;transform:scaleX(0.8814)">septiembre</span></p>
</body></html>
